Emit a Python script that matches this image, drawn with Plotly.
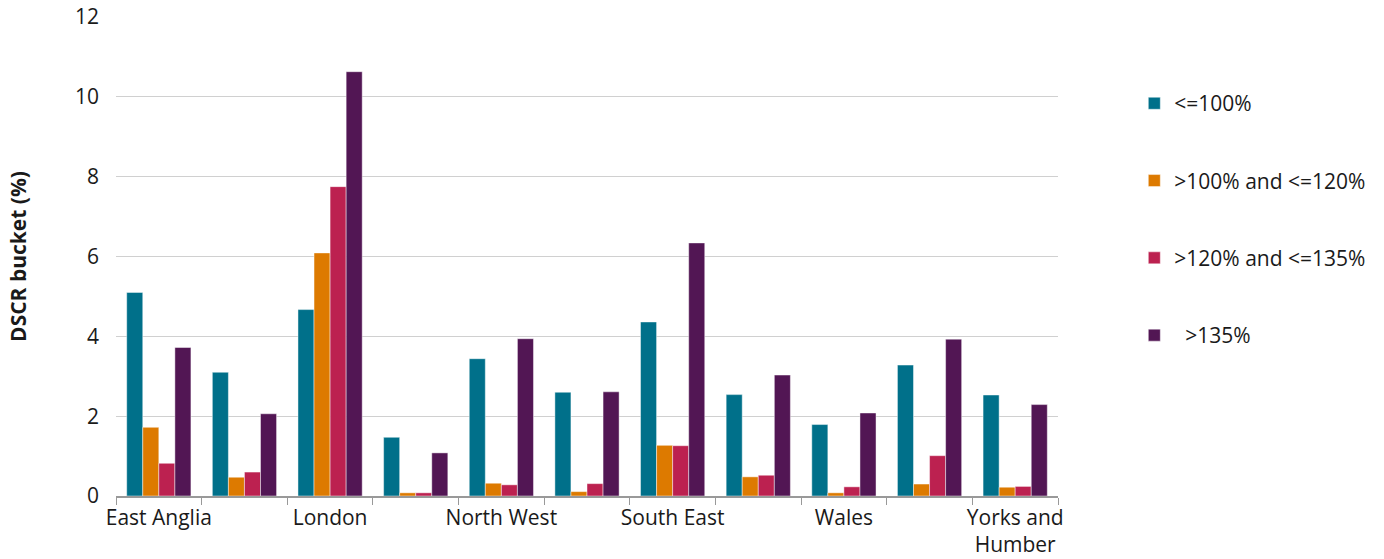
import plotly.graph_objects as go

regions = ["East Anglia", "East Midlands", "London", "North East", "North West",
           "Scotland", "South East", "South West", "Wales", "West Midlands",
           "Yorks and Humber"]
tick_text = ["East Anglia", "", "London", "", "North West", "", "South East",
             "", "Wales", "", "Yorks and<br>Humber"]

series_names = ["<=100%", ">100% and <=120%", ">120% and <=135%", "\u00a0\u00a0>135%"]
le_100 = [5.10, 3.10, 4.67, 1.47, 3.44, 2.60, 4.36, 2.54, 1.79, 3.28, 2.53]
gt100_le120 = [1.72, 0.47, 6.09, 0.08, 0.32, 0.11, 1.27, 0.48, 0.08, 0.30, 0.22]
gt120_le135 = [0.82, 0.60, 7.75, 0.08, 0.28, 0.31, 1.26, 0.52, 0.23, 1.01, 0.24]
gt_135 = [3.72, 2.06, 10.63, 1.08, 3.94, 2.61, 6.34, 3.03, 2.08, 3.93, 2.29]

colors = ["#00708A", "#DD7A00", "#BC2150", "#521654"]
values = [le_100, gt100_le120, gt120_le135, gt_135]

font_family = "'Open Sans', Roboto, sans-serif"

fig = go.Figure()
for i, (name, vals, col) in enumerate(zip(series_names, values, colors)):
    fig.add_trace(go.Bar(
        x=regions, y=vals, name=name, legendgroup=f"g{i}",
        marker=dict(color=col, line=dict(color="rgba(255,255,255,0.45)", width=1)),
    ))

fig.update_layout(
    width=1384, height=559,
    margin=dict(l=116, r=326, t=17, b=63, autoexpand=False),
    paper_bgcolor="white", plot_bgcolor="white",
    barmode="group", bargap=0.25, bargroupgap=0,
    font=dict(family=font_family, size=21, color="#1a1a1a"),
    legend=dict(
        x=1.081, y=0.862, xanchor="left", yanchor="top",
        traceorder="grouped", tracegroupgap=47,
        font=dict(size=21), itemwidth=30,
    ),
    xaxis=dict(
        tickmode="array", tickvals=regions, ticktext=tick_text,
        tickson="boundaries", ticks="outside", ticklen=7, tickcolor="#999999",
        showline=True, linecolor="#999999", linewidth=1.5,
        showgrid=False, tickangle=0, automargin=False, ticklabelstandoff=2,
    ),
    yaxis=dict(
        range=[0, 12], dtick=2, showgrid=True, gridcolor="#d0d0d0", gridwidth=1,
        zeroline=False, showline=False, ticks="", ticklabelstandoff=16,
        automargin=False,
        title=dict(text="<b>DSCR bucket (%)</b>", font=dict(size=21), standoff=42),
    ),
)

fig.write_html("out.html")
